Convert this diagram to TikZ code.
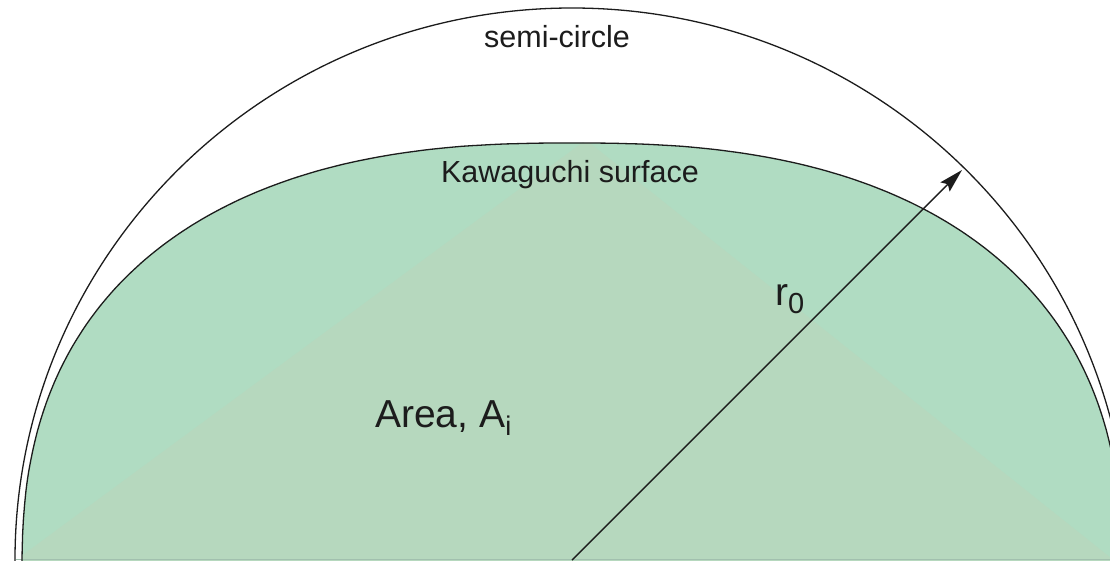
\documentclass[tikz,border=0pt]{standalone}
\usepackage{fontspec}
\setmainfont{Liberation Sans}
\usetikzlibrary{arrows.meta}
\definecolor{kgreen}{RGB}{176,220,194}
\definecolor{kinner}{RGB}{182,216,190}
\definecolor{ink}{RGB}{28,28,28}
\begin{document}
\begin{tikzpicture}[x=1pt,y=-1pt,
  outline/.style={draw=ink,line width=1.3pt},
  lbl/.style={inner sep=0pt,text=ink},
  smallfont/.style={font=\fontsize{30.5}{32}\selectfont},
  bigfont/.style={font=\fontsize{39}{40}\selectfont}]
\useasboundingbox (0,0) rectangle (1110,560);
\clip (0,0) rectangle (1110,560);
\fill[white] (0,0) rectangle (1110,560);
\def\kawapath{plot[domain=0.1:179.9,samples=240] ({572+550*sign(cos(\x))*pow(abs(cos(\x)),0.8163)},{575-432*pow(sin(\x),0.8163)})}
% Kawaguchi surface area
\fill[kgreen] \kawapath -- (20,600) -- (1125,600) -- cycle;
\begin{scope}
  \clip \kawapath -- (20,600) -- (1125,600) -- cycle;
  \fill[kinner] (586,140) -- (1170,605) -- (-60,616) -- cycle;
\end{scope}
\draw[kgreen!70!gray,line width=1pt] (16,559.5) -- (1110,559.5);
\draw[outline] \kawapath;
% semi-circle
\coordinate (c) at (572,560);
\draw[outline] (c) ellipse[x radius=557,y radius=552];
% radius arrow
\coordinate (tip) at (962,170);
\draw[draw=ink,line width=1.4pt,-{Stealth[length=24pt,width=13pt,inset=4pt]}] (c) -- (tip);
% labels
\node[lbl,smallfont,anchor=base] (semi) at (557,47) {semi-circle};
\node[lbl,smallfont,anchor=base] (kawa) at (570,182) {Kawaguchi surface};
\node[lbl,bigfont,anchor=base west] (area) at (375,427) {Area, A\raisebox{-8pt}{\fontsize{27}{27}\selectfont i}};
\node[lbl,bigfont,anchor=base west] (r0) at (775,305) {r\raisebox{-8pt}{\fontsize{29}{29}\selectfont 0}};
\end{tikzpicture}
\end{document}
